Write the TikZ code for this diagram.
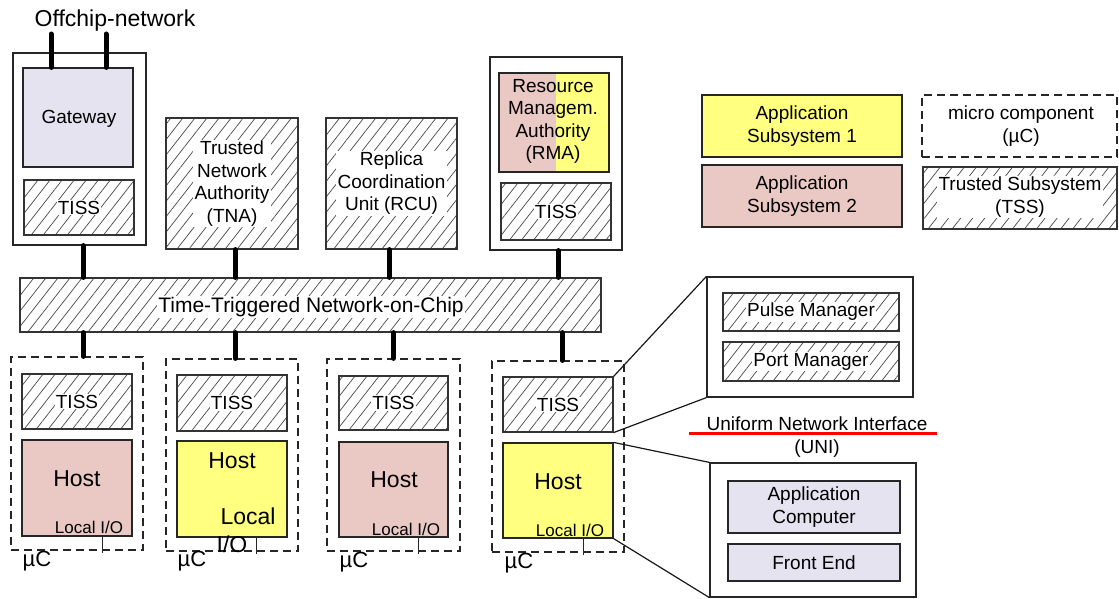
\documentclass[tikz,border=0pt]{standalone}
\usepackage{fontspec}
\setmainfont{Liberation Sans}
\usetikzlibrary{patterns.meta}
\definecolor{appyellow}{HTML}{FFFF80}
\definecolor{apppink}{HTML}{EAC8C4}
\definecolor{lav}{HTML}{E5E3EF}
\newcommand{\myfs}[2]{\fontsize{#1}{#2}\selectfont}
\tikzset{
  box/.style={draw=black!85, line width=1.2pt, inner sep=0pt, anchor=center},
  hatchbox/.style={box, draw=black!80, preaction={fill=white},
    pattern={Lines[angle=52,distance=9.5pt,line width=0.7pt]}, pattern color=black!72},
  dashbox/.style={draw=black!85, line width=1.2pt, dash pattern=on 8pt off 5pt, inner sep=0pt, anchor=center},
  txt/.style={inner sep=0pt, font=\myfs{19}{22.5}, align=center},
  htxt/.style={fill=white, inner sep=1.2pt, font=\myfs{19}{22.5}, align=center},
  hosttxt/.style={inner sep=0pt, font=\myfs{23}{25}},
  iotxt/.style={inner sep=0pt, font=\myfs{17}{19}, anchor=base},
  uctxt/.style={inner sep=0pt, font=\myfs{22}{24}, anchor=base},
  bus/.style={line width=5pt, line cap=round, black},
  thinline/.style={line width=1.2pt, black!90},
  iotick/.style={line width=1pt, black!85},
}
\begin{document}
\begin{tikzpicture}[x=1pt,y=-1pt]
\useasboundingbox[fill=white] (0,0) rectangle (1119,599);

% ---------- Gateway ----------
\node[box, fill=white, minimum width=133pt, minimum height=192pt] (gwout) at (79.5,149) {};
\node[box, fill=lav, minimum width=110pt, minimum height=99pt] (gwin) at (78,117.5) {};
\node[txt, anchor=base] (gwtxt) at (79,124) {Gateway};
\node[hatchbox, minimum width=110pt, minimum height=55pt] (gwtiss) at (79,207.5) {};
\node[htxt] (gwtisstxt) at (gwtiss) {TISS};

\node[uctxt, font=\myfs{23}{25}] (offtxt) at (115,27) {Offchip-network};
\coordinate (off1) at (51,34);
\coordinate (off2) at (106,34);
\draw[bus] (off1) -- (off1 |- gwin.north);
\draw[bus] (off2) -- (off2 |- gwin.north);

% ---------- TNA / RCU ----------
\node[hatchbox, minimum width=132pt, minimum height=131pt] (tna) at (232,183.5) {};
\node[htxt] (tnatxt) at (tna) {Trusted\\Network\\Authority\\(TNA)};
\node[hatchbox, minimum width=131pt, minimum height=131pt] (rcu) at (391.5,183.5) {};
\node[htxt] (rcutxt) at (rcu) {Replica\\Coordination\\Unit (RCU)};

% ---------- RMA ----------
\node[box, fill=white, minimum width=132pt, minimum height=193pt] (rmaout) at (556,153.5) {};
\node[box, minimum width=110pt, minimum height=99pt,
  path picture={
    \fill[apppink] (path picture bounding box.north west) rectangle ([xshift=2pt]path picture bounding box.south);
    \fill[appyellow] ([xshift=2pt]path picture bounding box.south) rectangle (path picture bounding box.north east);
  }] (rma) at (554,122.5) {};
\node[txt] (rmatxt) at (553,121.5) {Resource\\Managem.\\Authority\\(RMA)};
\node[hatchbox, minimum width=110pt, minimum height=57pt] (rmatiss) at (556,211.5) {};
\node[htxt] (rmatisstxt) at (rmatiss) {TISS};

% ---------- NoC ----------
\node[hatchbox, minimum width=581pt, minimum height=54pt] (noc) at (310.5,305) {};
\node[htxt, font=\myfs{21}{24}, anchor=base] (noctxt) at (311,312) {Time-Triggered Network-on-Chip};

\coordinate (u1) at ([xshift=3.5pt]gwout.south);
\coordinate (u2) at ([xshift=3pt]tna.south);
\coordinate (u3) at ([xshift=-2.5pt]rcu.south);
\coordinate (u4) at ([xshift=2pt]rmaout.south);
\foreach \c in {u1,u2,u3,u4} { \draw[bus] (\c) -- (\c |- noc.north); }

% ---------- micro components ----------
\node[dashbox, minimum width=132pt, minimum height=193pt] (uc1) at (77,453.5) {};
\node[hatchbox, minimum width=110pt, minimum height=55pt] (tiss1) at (77,401.5) {};
\node[htxt] (tiss1txt) at (tiss1) {TISS};
\node[box, fill=apppink, minimum width=110pt, minimum height=96pt] (host1) at (77,488) {};
\node[hosttxt] (host1txt) at (77,478.5) {Host};
\node[iotxt] (io1txt) at (89,533) {Local I/O};

\node[dashbox, minimum width=132pt, minimum height=192pt] (uc2) at (232,455) {};
\node[hatchbox, minimum width=110pt, minimum height=56pt] (tiss2) at (232,403) {};
\node[htxt] (tiss2txt) at (tiss2) {TISS};
\node[box, fill=appyellow, minimum width=110pt, minimum height=96pt] (host2) at (232,489) {};
\node[hosttxt] (host2txt) at (232,461) {Host};
\node[hosttxt, anchor=base] (io2txta) at (248,524) {Local};
\node[hosttxt, anchor=base] (io2txtb) at (232,552) {I/O};

\node[dashbox, minimum width=133pt, minimum height=192pt] (uc3) at (393.5,455) {};
\node[hatchbox, minimum width=109pt, minimum height=54pt] (tiss3) at (393.5,403) {};
\node[htxt] (tiss3txt) at (tiss3) {TISS};
\node[box, fill=apppink, minimum width=109pt, minimum height=95pt] (host3) at (393.5,489.5) {};
\node[hosttxt] (host3txt) at (394,480) {Host};
\node[iotxt] (io3txt) at (406,535) {Local I/O};

\node[dashbox, minimum width=132pt, minimum height=191pt] (uc4) at (558,456.5) {};
\node[hatchbox, minimum width=110pt, minimum height=55pt] (tiss4) at (558,404.5) {};
\node[htxt] (tiss4txt) at (tiss4) {TISS};
\node[box, fill=appyellow, minimum width=110pt, minimum height=95pt] (host4) at (558,490.5) {};
\node[hosttxt] (host4txt) at (558,481.5) {Host};
\node[iotxt] (io4txt) at (570,536) {Local I/O};

\node[uctxt] (uc1txt) at (37,566) {µC};
\node[uctxt] (uc2txt) at (192,566) {µC};
\node[uctxt] (uc3txt) at (354,567) {µC};
\node[uctxt] (uc4txt) at (519,568) {µC};

\coordinate (d1) at ([xshift=6pt]uc1.north);
\coordinate (d2) at ([xshift=3pt]uc2.north);
\coordinate (d3) at ([xshift=0pt]uc3.north);
\coordinate (d4) at ([xshift=4pt]uc4.north);
\foreach \c in {d1,d2,d3,d4} { \draw[bus] (\c |- noc.south) -- (\c); }

% local I/O ticks
\coordinate (tk1) at (102,553);
\coordinate (tk2) at (256,554);
\coordinate (tk3) at (418,554);
\coordinate (tk4) at (583,555);
\draw[iotick] (tk1 |- host1.south) -- (tk1);
\draw[iotick] (tk2 |- host2.south) -- (tk2);
\draw[iotick] (tk3 |- host3.south) -- (tk3);
\draw[iotick] (tk4 |- host4.south) -- (tk4);

% ---------- detail boxes ----------
\node[box, fill=white, minimum width=206pt, minimum height=120pt] (tissdet) at (810,337) {};
\node[hatchbox, minimum width=176pt, minimum height=38pt] (pulse) at (811,312) {};
\node[htxt] (pulsetxt) at (pulse) {Pulse Manager};
\node[hatchbox, minimum width=176pt, minimum height=39pt] (port) at (811,361.5) {};
\node[htxt] (porttxt) at (port) {Port Manager};

\node[box, fill=white, minimum width=206pt, minimum height=134pt] (hostdet) at (813,530) {};
\node[box, fill=lav, minimum width=172pt, minimum height=52pt] (appc) at (814,507) {};
\node[txt] (appctxt) at (appc) {Application\\Computer};
\node[box, fill=lav, minimum width=172pt, minimum height=37pt] (fe) at (814,562.5) {};
\node[txt] (fetxt) at (fe) {Front End};

\draw[thinline] (tiss4.north east) -- (tissdet.north west);
\draw[thinline] (tiss4.south east) -- (tissdet.south west);
\draw[thinline] (host4.north east) -- (hostdet.north west);
\draw[thinline] (host4.south east) -- (hostdet.south west);

\node[txt, anchor=base] (unitxt) at (817,430) {Uniform Network Interface};
\node[txt, anchor=base] (uni2txt) at (817,453) {(UNI)};
\coordinate (ul1) at (689,433.5);
\coordinate (ul2) at (937,433.5);
\draw[red, line width=3pt] (ul1) -- (ul2);

% ---------- legend ----------
\node[box, fill=appyellow, minimum width=200pt, minimum height=62pt] (leg1) at (802,126) {};
\node[txt] (leg1txt) at (leg1) {Application\\Subsystem 1};
\node[box, fill=apppink, minimum width=200pt, minimum height=62pt] (leg2) at (802,196) {};
\node[txt] (leg2txt) at (leg2) {Application\\Subsystem 2};
\node[dashbox, minimum width=195pt, minimum height=62pt] (leg3) at (1019.5,126) {};
\node[txt] (leg3txt) at (1021,126) {micro component\\(µC)};
\node[hatchbox, minimum width=194pt, minimum height=62pt] (leg4) at (1020,198) {};
\node[htxt] (leg4txt) at (1020,197) {Trusted Subsystem\\(TSS)};
\end{tikzpicture}
\end{document}
